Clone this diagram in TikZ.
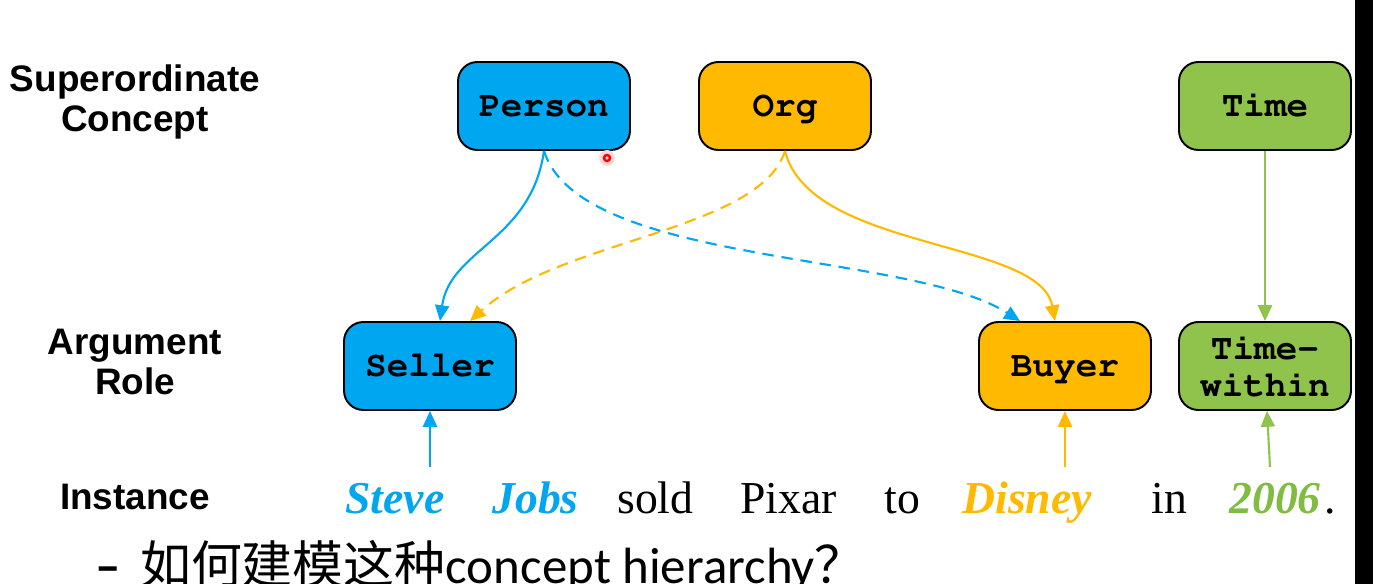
\documentclass[tikz,border=0pt]{standalone}
\usepackage[T1]{fontenc}
\usepackage{fontspec}
\setmainfont{Liberation Serif}
\setmonofont{Liberation Mono}
\newfontfamily\arialfont{Liberation Sans}
\newfontfamily\calibrifont{Carlito}
\newfontfamily\cjk{Noto Sans CJK SC}
\newcommand\courierbold{\fontencoding{T1}\fontfamily{pcr}\fontseries{b}\fontshape{n}\selectfont}
\usetikzlibrary{calc,arrows.meta,positioning}

\definecolor{skyblue}{RGB}{0,166,240}
\definecolor{amber}{RGB}{255,186,0}
\definecolor{leaf}{RGB}{143,195,75}
\definecolor{leaftext}{RGB}{128,188,66}

\begin{document}
\begin{tikzpicture}[x=0.02cm,y=-0.02cm]
		% Styles
		\tikzset{
			concept/.style={draw=black, line width=1.1pt, rounded corners=11pt, minimum width=3.44cm, minimum height=1.76cm, align=center, text height=12pt, text depth=0.5pt, font=\courierbold\fontsize{20.5}{21}\selectfont},
			level/.style={align=center, font=\arialfont\bfseries\fontsize{21}{22.5}\selectfont},
			word/.style={anchor=base west, inner sep=0pt, font=\fontsize{26}{28}\selectfont},
			keyword/.style={word, font=\bfseries\itshape\fontsize{26}{28}\selectfont},
			isa/.style={line width=1.2pt, -{Triangle[length=9pt,width=8pt]}},
			maybe/.style={isa, dash pattern=on 6.5pt off 4.5pt}
		}

		% Frame
		\useasboundingbox (0,0) rectangle (1373,584);
		\clip (0,0) rectangle (1373,584);
		\fill[white] (0,0) rectangle (1373,584);
		\fill[black] (1355,0) rectangle (1373,584);

		% Level labels
		\node[level] (lsuper) at (135,102) {Superordinate\\Concept};
		\node[level] (lrole) at (135,362) {Argument\\Role};
		\node[level] (linst) at (135,497) {Instance};

		% Superordinate concepts
		\node[concept, fill=skyblue] (person) at (544,106) {Person};
		\node[concept, fill=amber] (org) at (785,106) {Org};
		\node[concept, fill=leaf] (time) at (1265,106) {Time};

		% Argument roles
		\node[concept, fill=skyblue] (seller) at (430,366) {Seller};
		\node[concept, fill=amber] (buyer) at (1065,366) {Buyer};
		\node[concept, fill=leaf, text height=, text depth=] (timew) at (1265,366) {Time-\\within};

		% Instance sentence
		\node[keyword, text=skyblue] (steve) at (345,513) {Steve};
		\node[keyword, text=skyblue] (jobs) at (492,513) {Jobs};
		\node[word] (sold) at (617,513) {sold};
		\node[word] (pixar) at (740,513) {Pixar};
		\node[word] (to) at (884,513) {to};
		\node[keyword, text=amber] (disney) at (962,513) {Disney};
		\node[word] (in) at (1151,513) {in};
		\node[keyword, text=leaftext] (year) at (1229,513) {2006};
		\node[word] (dot) at (1324,513) {.};

		% Arrow feet above the words
		\coordinate (sellerfoot) at (430,467);
		\coordinate (buyerfoot) at (1065,467);
		\coordinate (timefoot) at (1270,467);

		% Concept -> role
		\draw[isa, skyblue] (person.south) .. controls +(-13,90) and +(10,-72) .. ($(seller.north)+(10,0)$);
		\draw[maybe, amber] (org.south) .. controls +(-25,80) and +(90,-82) .. ($(seller.north)+(40,0)$);
		\draw[maybe, skyblue] (person.south) .. controls +(36,115) and +(-110,-70) .. ($(buyer.north)+(-45,0)$);
		\draw[isa, amber] (org.south) .. controls +(25,100) and +(-15,-82) .. ($(buyer.north)+(-10,0)$);
		\draw[isa, leaf] (time) -- (timew);

		% Word -> role
		\draw[isa, skyblue] (sellerfoot) -- (seller.south);
		\draw[isa, amber] (buyerfoot) -- (buyer.south);
		\draw[isa, leaf] (timefoot) -- ($(timew.south)+(2,0)$);

		% Pointer mark
		\fill[red!15] (607,158) circle (8);
		\draw[red, line width=1.4pt] (607,158) circle (3);

		% Question below
		\node[anchor=base west, inner sep=0pt, font=\fontsize{29}{31}\selectfont] (question) at (95,583) {{\calibrifont\bfseries –\hspace{0.38em}}{\cjk 如何建模这种}{\calibrifont concept hierarchy}{\cjk ？}};

	\end{tikzpicture}
\end{document}
